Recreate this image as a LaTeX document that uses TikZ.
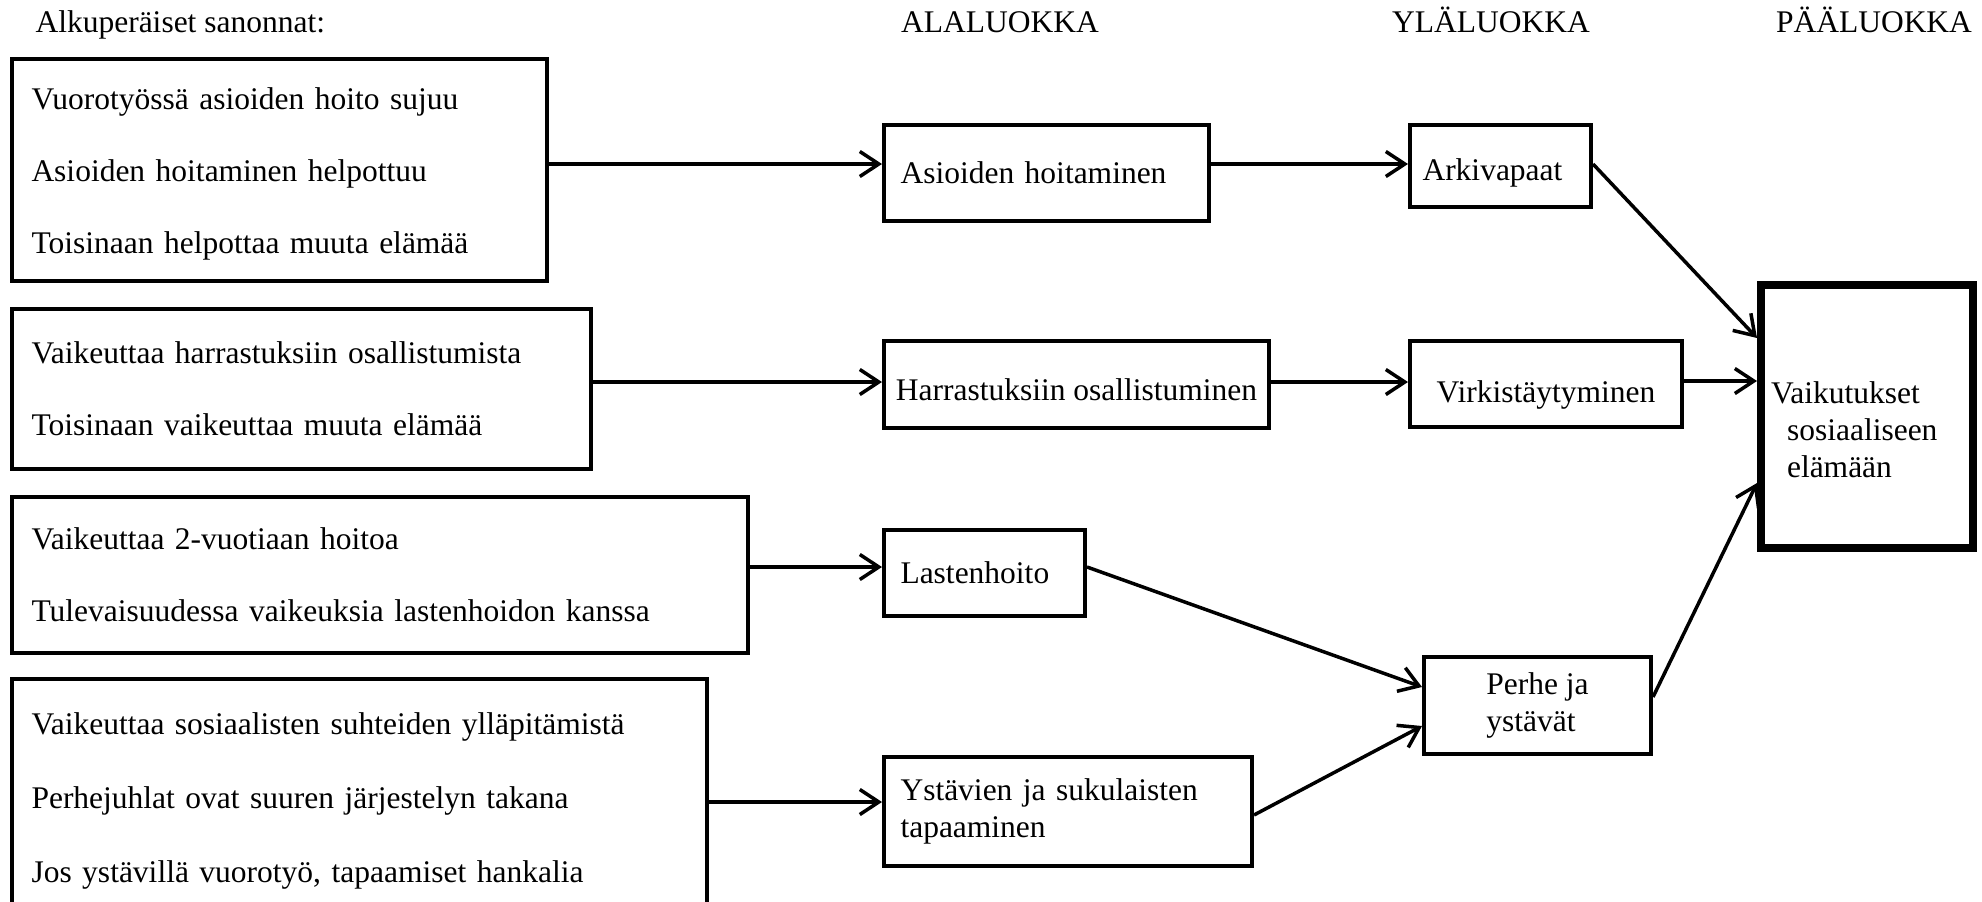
\documentclass[tikz,border=0pt]{standalone}
\usepackage{fontspec}
\setmainfont{Liberation Serif}
\usetikzlibrary{arrows.meta,positioning}
\tikzset{
  >={Straight Barb[length=19pt,width=25pt]},
  qbox/.style={draw,line width=4pt,anchor=north west,align=left,inner xsep=19.5pt,inner ysep=0pt,font=\fontsize{31.5}{72}\selectfont},
  cbox/.style={draw,line width=4pt,anchor=north west,align=left,inner xsep=16.5pt,inner ysep=0pt},
  mainbox/.style={draw,line width=8pt,anchor=north west,align=left,inner xsep=10pt,inner ysep=0pt},
  head/.style={anchor=base},
  arr/.style={->,line width=3.5pt},
}

\begin{document}
\begin{tikzpicture}[x=1pt,y=-1pt,every node/.style={font=\fontsize{31.5}{37}\selectfont}]
\useasboundingbox (0,0) rectangle (1982,902);
\clip (0,0) rectangle (1982,902);
\node[head,anchor=base west] (h0) at (32,32) {Alkuperäiset sanonnat:};
\foreach \x/\t/\n in {1000/ALALUOKKA/ala,1491/YLÄLUOKKA/yla,1874/PÄÄLUOKKA/paa}
  \node[head] (h\n) at (\x,32) {\t};

% alkuperaiset sanonnat
\node[qbox,text width=496pt,minimum height=222pt] (q1) at (10,57) {\rule{0pt}{30pt}Vuorotyössä asioiden hoito sujuu\\Asioiden hoitaminen helpottuu\\Toisinaan helpottaa muuta elämää};
\node[qbox,text width=540pt,minimum height=160pt] (q2) at (10,307) {Vaikeuttaa harrastuksiin osallistumista\\Toisinaan vaikeuttaa muuta elämää};
\node[qbox,text width=697pt,minimum height=156pt] (q3) at (10,495) {Vaikeuttaa 2-vuotiaan hoitoa\\Tulevaisuudessa vaikeuksia lastenhoidon kanssa};
\node[qbox,font=\fontsize{31.5}{74}\selectfont,text width=656pt,minimum height=236pt] (q4) at (10,677) {\rule{0pt}{30pt}Vaikeuttaa sosiaalisten suhteiden ylläpitämistä\\Perhejuhlat ovat suuren järjestelyn takana\\Jos ystävillä vuorotyö, tapaamiset hankalia};

% alaluokat
\node[cbox,text width=292pt,minimum height=96pt] (a1) at (882,123) {Asioiden hoitaminen};
\node[cbox,inner xsep=10pt,minimum width=385pt,minimum height=87pt,text height=31pt,text depth=0pt] (a2) at (882,339) {Harrastuksiin osallistuminen};
\node[cbox,text width=168pt,minimum height=86pt] (a3) at (882,528) {Lastenhoito};
\node[cbox,text width=335pt,minimum height=109pt] (a4) at (882,755) {Ystävien ja sukulaisten\\tapaaminen};

% ylaluokat
\node[cbox,inner xsep=12.5pt,text width=156pt,minimum height=82pt,text height=29pt,text depth=0pt] (y1) at (1408,123) {Arkivapaat};
\node[cbox,minimum width=272pt,minimum height=86pt,text height=37pt,text depth=0pt] (y2) at (1408,339) {Virkistäytyminen};
\node[cbox,minimum width=227pt,minimum height=97pt] (y3) at (1422,655) {Perhe ja\\ystävät};

% paaluokka
\node[mainbox,text width=192pt,minimum height=263pt] (p) at (1757,281) {\rule{0pt}{48pt}Vaikutukset\\\hspace*{16pt}sosiaaliseen\\\hspace*{16pt}elämään};

\draw[arr] ([yshift=6pt]q1.east) -- ([yshift=9pt]a1.west);
\draw[arr] ([yshift=7pt]q2.east) -- ([yshift=2.5pt]a2.west);
\draw[arr] ([yshift=8pt]q3.east) -- ([yshift=6pt]a3.west);
\draw[arr] ([yshift=-5pt]q4.east) -- ([yshift=9.5pt]a4.west);
\draw[arr] ([yshift=9pt]a1.east) -- ([yshift=2pt]y1.west);
\draw[arr] ([yshift=2.5pt]a2.east) -- ([yshift=2pt]y2.west);
\draw[arr] ([yshift=6pt]a3.east) -- ([yshift=18.5pt]y3.west);
\draw[arr] ([yshift=-3.5pt]a4.east) -- ([yshift=-20.5pt]y3.west);
\draw[arr] ([yshift=2pt]y1.east) -- ([yshift=78.5pt]p.west);
\draw[arr] ([yshift=3pt]y2.east) -- ([yshift=35.5pt]p.west);
\draw[arr] ([yshift=8.5pt]y3.east) -- ([yshift=-66.5pt]p.west);
\end{tikzpicture}
\end{document}
